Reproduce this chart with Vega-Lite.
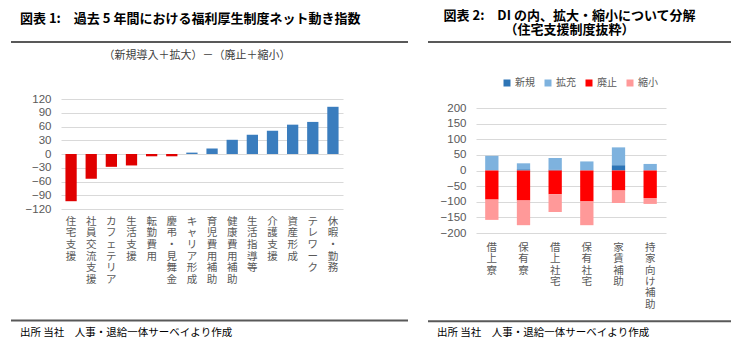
{
  "$schema": "https://vega.github.io/schema/vega-lite/v6.json",
  "padding": {"left": 10, "top": 9, "right": 0, "bottom": 0},
  "background": "white",
  "spacing": 18,
  "resolve": {"scale": {"color": "independent"}, "legend": {"color": "independent"}},
  "config": {
    "view": {"stroke": null},
    "font": "Liberation Sans, Noto Sans CJK JP",
    "title": {"font": "Noto Sans CJK JP", "color": "#000000"},
    "axis": {"domain": false, "ticks": false, "tickSize": 0, "gridColor": "#D9D9D9", "gridWidth": 1, "labelColor": "#595959"}
  },
  "hconcat": [
    {
      "spacing": 0,
      "vconcat": [
        {
          "width": 397,
          "height": 7.5,
          "title": {"text": ["", "図表 1:　過去 5 年間における福利厚生制度ネット動き指数"], "lineHeight": 3.5, "fontSize": 13, "fontWeight": "bold", "anchor": "start", "dx": 10, "offset": 15},
          "data": {"values": [{"edge": 1}]},
          "mark": {"type": "rule", "color": "#595959", "strokeWidth": 2},
          "encoding": {"y": {"field": "edge", "type": "quantitative", "scale": {"domain": [0, 1]}, "axis": null}}
        },
        {
          "width": 332,
          "height": 110,
          "title": {"text": "（新規導入＋拡大）－（廃止＋縮小）", "fontSize": 11, "fontWeight": "normal", "color": "#404040", "anchor": "middle", "frame": "group", "offset": 32, "dx": 20},
          "data": {"values": [
            {"item": "住宅支援", "net": -103},
            {"item": "社員交流支援", "net": -54},
            {"item": "カフェテリア", "net": -28},
            {"item": "生活支援", "net": -25},
            {"item": "転勤費用", "net": -5},
            {"item": "慶弔・見舞金", "net": -5},
            {"item": "キャリア形成", "net": 3},
            {"item": "育児費用補助", "net": 12},
            {"item": "健康費用補助", "net": 31},
            {"item": "生活指導等", "net": 42},
            {"item": "介護支援", "net": 51},
            {"item": "資産形成", "net": 64},
            {"item": "テレワーク", "net": 70},
            {"item": "休暇・勤務", "net": 103}
          ]},
          "mark": {"type": "bar"},
          "encoding": {
            "x": {"field": "item", "type": "nominal", "sort": null,
                  "scale": {"range": [50, 332], "paddingInner": 0.44, "paddingOuter": 0.22},
                  "axis": {"title": null, "labelAngle": 0, "labelExpr": "split(datum.label, '')", "labelFont": "Noto Sans CJK JP", "labelFontSize": 10.5, "labelLineHeight": 11.7, "labelPadding": 7, "labelOverlap": false, "grid": false}},
            "y": {"field": "net", "type": "quantitative",
                  "scale": {"domain": [-120, 120]},
                  "axis": {"title": null, "offset": -50, "values": [-120, -90, -60, -30, 0, 30, 60, 90, 120], "labelFont": "Liberation Sans", "labelFontSize": 11.5, "labelPadding": 10, "grid": true}},
            "color": {"condition": {"test": "datum.net < 0", "value": "#E00000"}, "value": "#3A7DBE"}
          }
        },
        {
          "width": 397,
          "height": 35.5,
          "title": {"text": "出所 当社　人事・退給一体サーベイより作成", "orient": "bottom", "anchor": "start", "dx": 10, "offset": 6, "fontSize": 10.5, "fontWeight": "normal", "color": "#000000"},
          "data": {"values": [{"edge": 0}]},
          "mark": {"type": "rule", "color": "#595959", "strokeWidth": 2},
          "encoding": {"y": {"field": "edge", "type": "quantitative", "scale": {"domain": [0, 1]}, "axis": null}}
        }
      ]
    },
    {
      "spacing": 0,
      "resolve": {"scale": {"color": "independent"}, "legend": {"color": "independent"}},
      "vconcat": [
        {
          "width": 303,
          "height": 36,
          "title": {"text": ["図表 2:　DI の内、拡大・縮小について分解", "（住宅支援制度抜粋）　"], "lineHeight": 14, "fontSize": 13, "fontWeight": "bold", "anchor": "middle", "dx": -10, "offset": 4.3},
          "data": {"values": [{"edge": 1}]},
          "mark": {"type": "rule", "color": "#595959", "strokeWidth": 2},
          "encoding": {"y": {"field": "edge", "type": "quantitative", "scale": {"domain": [0, 1]}, "axis": null}}
        },
        {
          "width": 238,
          "height": 125,
          "data": {"values": [
            {"item": "借上寮", "type": "新規", "value": 0},
            {"item": "借上寮", "type": "拡充", "value": 47},
            {"item": "借上寮", "type": "廃止", "value": -93},
            {"item": "借上寮", "type": "縮小", "value": -65},
            {"item": "保有寮", "type": "新規", "value": 4},
            {"item": "保有寮", "type": "拡充", "value": 19},
            {"item": "保有寮", "type": "廃止", "value": -96},
            {"item": "保有寮", "type": "縮小", "value": -79},
            {"item": "借上社宅", "type": "新規", "value": 3},
            {"item": "借上社宅", "type": "拡充", "value": 37},
            {"item": "借上社宅", "type": "廃止", "value": -76},
            {"item": "借上社宅", "type": "縮小", "value": -57},
            {"item": "保有社宅", "type": "新規", "value": 0},
            {"item": "保有社宅", "type": "拡充", "value": 29},
            {"item": "保有社宅", "type": "廃止", "value": -99},
            {"item": "保有社宅", "type": "縮小", "value": -76},
            {"item": "家賃補助", "type": "新規", "value": 17},
            {"item": "家賃補助", "type": "拡充", "value": 57},
            {"item": "家賃補助", "type": "廃止", "value": -64},
            {"item": "家賃補助", "type": "縮小", "value": -40},
            {"item": "持家向け補助", "type": "新規", "value": 0},
            {"item": "持家向け補助", "type": "拡充", "value": 21},
            {"item": "持家向け補助", "type": "廃止", "value": -88},
            {"item": "持家向け補助", "type": "縮小", "value": -19}
          ]},
          "mark": {"type": "bar"},
          "encoding": {
            "x": {"field": "item", "type": "nominal", "sort": null,
                  "scale": {"range": [48, 238], "paddingInner": 0.58, "paddingOuter": 0.29},
                  "axis": {"title": null, "labelAngle": 0, "labelExpr": "split(datum.label, '')", "labelFont": "Noto Sans CJK JP", "labelFontSize": 10.5, "labelLineHeight": 11.3, "labelPadding": 9.5, "labelOverlap": false, "grid": false}},
            "y": {"field": "value", "type": "quantitative", "stack": "zero",
                  "scale": {"domain": [-200, 200]},
                  "axis": {"title": null, "offset": -48, "values": [-200, -150, -100, -50, 0, 50, 100, 150, 200], "labelFont": "Liberation Sans", "labelFontSize": 11.5, "labelPadding": 10, "grid": true}},
            "order": {"field": "value", "type": "quantitative", "sort": "ascending"},
            "color": {"field": "type", "type": "nominal",
                      "sort": ["新規", "拡充", "廃止", "縮小"],
                      "scale": {"domain": ["新規", "拡充", "廃止", "縮小"], "range": ["#2E75B6", "#7EB2DE", "#FF0000", "#FF9999"]},
                      "legend": {"title": null, "orient": "none", "direction": "horizontal", "legendX": 74, "legendY": -30, "symbolType": "square", "symbolSize": 49, "symbolStrokeWidth": 0, "labelFont": "Noto Sans CJK JP", "labelFontSize": 10, "labelColor": "#595959", "labelOffset": 3, "columnPadding": 8, "padding": 0}}
          }
        },
        {
          "width": 303,
          "height": 11.3,
          "title": {"text": "出所 当社　人事・退給一体サーベイより作成", "orient": "bottom", "anchor": "start", "dx": 10, "offset": 6, "fontSize": 10.5, "fontWeight": "normal", "color": "#000000"},
          "data": {"values": [{"edge": 0}]},
          "mark": {"type": "rule", "color": "#595959", "strokeWidth": 2},
          "encoding": {"y": {"field": "edge", "type": "quantitative", "scale": {"domain": [0, 1]}, "axis": null}}
        }
      ]
    }
  ]
}
